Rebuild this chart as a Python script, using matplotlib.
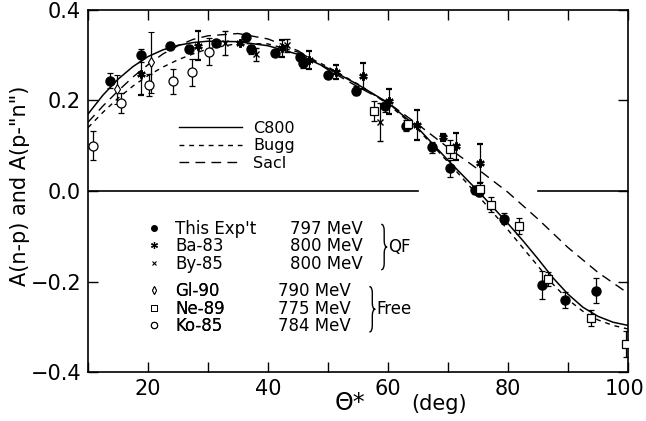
import numpy as np
import matplotlib
matplotlib.use('Agg')
import matplotlib.pyplot as plt
import matplotlib.transforms as mtransforms
from matplotlib.lines import Line2D
from matplotlib.path import Path
from matplotlib.patches import PathPatch
from matplotlib.ticker import MultipleLocator, FixedLocator, FixedFormatter

plt.rcParams['font.family'] = ['DejaVu Sans']

# ---------------- theory curves ----------------
curve_theta = [10, 12.5, 15, 17.5, 20, 22.5, 25, 27.5, 30, 35, 40, 45, 50, 55, 60, 65,
               70, 75, 80, 82.5, 85, 87.5, 90, 92.5, 95, 97.5, 100]
c800 = [0.170, 0.212, 0.247, 0.275, 0.297, 0.312, 0.322, 0.328, 0.331, 0.330, 0.321,
        0.302, 0.271, 0.235, 0.195, 0.139, 0.068, 0.000, -0.072, -0.110, -0.150,
        -0.192, -0.228, -0.257, -0.277, -0.290, -0.297]
bugg = [0.140, 0.174, 0.205, 0.232, 0.255, 0.274, 0.290, 0.303, 0.314, 0.326, 0.325,
        0.307, 0.274, 0.236, 0.192, 0.136, 0.064, -0.010, -0.086, -0.126, -0.166,
        -0.206, -0.240, -0.266, -0.285, -0.297, -0.305]
sacl_theta = [10, 12.5, 15, 17.5, 20, 22.5, 25, 27.5, 30, 35, 40, 45, 50, 55, 60, 65,
              70, 75, 80, 85, 90, 95, 100]
sacl = [0.152, 0.188, 0.221, 0.252, 0.279, 0.303, 0.321, 0.335, 0.343, 0.348, 0.336,
        0.310, 0.268, 0.230, 0.195, 0.147, 0.096, 0.048, -0.003, -0.062, -0.125,
        -0.180, -0.226]
curve_names = ["C800", "Bugg", "Sacl"]

# ---------------- data sets ----------------
# This Exp't (797 MeV)
exp_theta = [13.7, 18.8, 23.7, 26.8, 31.4, 36.3, 37.1, 41.1, 45.3, 45.9, 50.0, 54.7,
             59.5, 63.0, 67.4, 70.4, 74.5, 75.2, 79.3, 85.6, 89.5, 94.6]
exp_val = [0.244, 0.300, 0.321, 0.314, 0.327, 0.340, 0.313, 0.305, 0.297, 0.282, 0.257,
           0.222, 0.188, 0.144, 0.097, 0.050, 0.002, -0.002, -0.061, -0.208, -0.241,
           -0.220]
exp_err = [0.017, 0.014, 0.008, 0.008, 0.006, 0.007, 0.010, 0.007, 0.006, 0.010, 0.007,
           0.010, 0.014, 0.012, 0.012, 0.018, 0.008, 0.008, 0.012, 0.031, 0.017, 0.027]

# Ba-83 (800 MeV)
ba_theta = [18.9, 28.4, 35.3, 42.3, 46.9, 51.4, 55.8, 60.1, 64.8, 69.1, 71.3, 75.4]
ba_val = [0.258, 0.321, 0.326, 0.315, 0.290, 0.263, 0.254, 0.198, 0.146, 0.119, 0.099,
          0.061]
ba_err = [0.046, 0.032, 0.003, 0.019, 0.020, 0.016, 0.028, 0.027, 0.033, 0.008, 0.030,
          0.043]

# By-85 (800 MeV)
by_theta = [32.8, 38.0, 43.1, 58.6]
by_val = [0.327, 0.302, 0.322, 0.153]
by_err = [0.027, 0.014, 0.015, 0.042]

# Gl-90 (790 MeV)
gl_theta = [14.9, 20.5]
gl_val = [0.225, 0.284]
gl_err = [0.032, 0.067]

# Ne-89 (775 MeV)
ne_theta = [57.7, 63.4, 70.4, 75.3, 77.1, 81.8, 86.6, 93.9, 99.7]
ne_val = [0.176, 0.148, 0.093, 0.004, -0.030, -0.077, -0.195, -0.280, -0.338]
ne_err = [0.022, 0.010, 0.020, 0.016, 0.016, 0.017, 0.015, 0.018, 0.028]

# Ko-85 (784 MeV)
ko_theta = [10.9, 15.5, 20.2, 24.1, 27.3, 30.2]
ko_val = [0.100, 0.194, 0.234, 0.242, 0.262, 0.308]
ko_err = [0.032, 0.022, 0.025, 0.028, 0.029, 0.030]

qf_names = ["This Exp't", "Ba-83", "By-85"]
qf_energies = ["797 MeV", "800 MeV", "800 MeV"]
free_names = ["Gl-90", "Ne-89", "Ko-85"]
free_energies = ["790 MeV", "775 MeV", "784 MeV"]

xticks = [20, 40, 60, 80, 100]
xtick_labels = ["20", "40", "60", "80", "100"]
yticks = [-0.4, -0.2, 0.0, 0.2, 0.4]
ytick_labels = ["\u22120.4", "\u22120.2", "0.0", "0.2", "0.4"]

# ---------------- figure ----------------
fig = plt.figure(figsize=(6.46, 4.21), dpi=100)
ax = fig.add_axes([88 / 646, 1 - 372 / 421, 540 / 646, 362 / 421])
ax.set_xlim(10, 100)
ax.set_ylim(-0.4, 0.4)

# zero line (with gap as in original)
ax.axhline(0, xmin=0.0, xmax=0.611, color='k', lw=1.2, zorder=1)
ax.axhline(0, xmin=0.833, xmax=1.0, color='k', lw=1.2, zorder=1)

# curves
ax.plot(curve_theta, c800, color='k', lw=1.1, ls='-', zorder=2)
ax.plot(curve_theta, bugg, color='k', lw=1.0, dashes=(3.5, 3.5), zorder=2)
ax.plot(sacl_theta, sacl, color='k', lw=1.0, dashes=(7, 4.5), zorder=2)

eb = dict(ecolor='k', elinewidth=0.9, capsize=2.5, capthick=0.9, ls='none', zorder=3)
ax.errorbar(exp_theta, exp_val, yerr=exp_err, marker='o', ms=6.5, mfc='k', mec='k', **eb)
ax.errorbar(ba_theta, ba_val, yerr=ba_err, marker=(6, 2, 0), ms=6, mec='k', mew=1.6, **eb)
ax.errorbar(by_theta, by_val, yerr=by_err, marker='x', ms=5, mec='k', mew=1.0, **eb)
ax.errorbar(gl_theta, gl_val, yerr=gl_err, marker='d', ms=5, mfc='white', mec='k', mew=0.8, **eb)
ax.errorbar(ne_theta, ne_val, yerr=ne_err, marker='s', ms=5.5, mfc='white', mec='k', mew=0.9, **eb)
ax.errorbar(ko_theta, ko_val, yerr=ko_err, marker='o', ms=6.5, mfc='white', mec='k', mew=0.9, **eb)

# ticks
ax.xaxis.set_major_locator(FixedLocator(xticks))
ax.xaxis.set_major_formatter(FixedFormatter(xtick_labels))
ax.xaxis.set_minor_locator(MultipleLocator(10))
ax.yaxis.set_major_locator(FixedLocator(yticks))
ax.yaxis.set_major_formatter(FixedFormatter(ytick_labels))
ax.tick_params(which='both', direction='in', top=True, right=True, length=7, width=1.0)
ax.tick_params(axis='both', which='major', labelsize=15, pad=5)
for s in ax.spines.values():
    s.set_linewidth(1.2)

# axis labels
fig.text(20 / 646, 1 - 186 / 421, 'A(n-p) and A(p-"n")', rotation=90, fontsize=15,
         ha='center', va='center')
fig.text(335 / 646, 1 - 403 / 421, '\u0398*', fontsize=17, ha='left', va='center')
fig.text(411 / 646, 1 - 404 / 421, '(deg)', fontsize=15, ha='left', va='center')

# curve legend
leg1 = ax.legend(handles=[Line2D([], [], color='k', lw=1.0, ls='-'),
                          Line2D([], [], color='k', lw=1.0, dashes=(3.5, 3.5)),
                          Line2D([], [], color='k', lw=1.0, dashes=(7, 4.5))],
                 labels=curve_names, loc='upper left', bbox_to_anchor=(0.168, 0.694),
                 frameon=False, fontsize=11.5, handlelength=3.95, handletextpad=0.7,
                 labelspacing=0.15, borderpad=0, borderaxespad=0)
ax.add_artist(leg1)

key_qf = [Line2D([], [], ls='none', marker='o', ms=4.0, mfc='k', mec='k'),
          Line2D([], [], ls='none', marker=(6, 2, 0), ms=5, mec='k', mew=0.9),
          Line2D([], [], ls='none', marker='x', ms=3.5, mec='k', mew=0.8)]
key_free = [Line2D([], [], ls='none', marker='d', ms=4, mfc='white', mec='k', mew=0.7),
            Line2D([], [], ls='none', marker='s', ms=4, mfc='white', mec='k', mew=0.7),
            Line2D([], [], ls='none', marker='o', ms=4.5, mfc='white', mec='k', mew=0.8)]
legkw = dict(loc='upper left', frameon=False, fontsize=12, handlelength=1.0,
             handletextpad=0.8, labelspacing=-0.04, borderpad=0, borderaxespad=0)
leg2 = ax.legend(handles=key_qf, labels=qf_names, bbox_to_anchor=(0.106, 0.420), **legkw)
ax.add_artist(leg2)
leg3 = ax.legend(handles=key_free, labels=free_names, bbox_to_anchor=(0.106, 0.248), **legkw)
ax.add_artist(leg3)

fig.canvas.draw()
inv = ax.transAxes.inverted()

# nudge the last x tick label ("100") so it stays inside the canvas
last_tick = ax.xaxis.get_major_ticks()[-1]
last_tick.label1.set_transform(last_tick.label1.get_transform() +
                               mtransforms.ScaledTranslation(-3 / 100, 0, fig.dpi_scale_trans))


def brace(x, y0, y1, w, d):
    ym = 0.5 * (y0 + y1)
    verts = [(x, y1), (x + w / 2, y1), (x + w / 2, y1 - d),
             (x + w / 2, ym + d),
             (x + w / 2, ym), (x + w, ym),
             (x + w / 2, ym), (x + w / 2, ym - d),
             (x + w / 2, y0 + d),
             (x + w / 2, y0), (x, y0)]
    codes = [Path.MOVETO, Path.CURVE3, Path.CURVE3, Path.LINETO,
             Path.CURVE3, Path.CURVE3, Path.CURVE3, Path.CURVE3,
             Path.LINETO, Path.CURVE3, Path.CURVE3]
    ax.add_patch(PathPatch(Path(verts, codes), transform=ax.transAxes, fill=False,
                           lw=1.0, edgecolor='k', clip_on=False))


def group(leg, energies, ex, bx, label, lx):
    tops, bots = [], []
    for t, e in zip(leg.get_texts(), energies):
        bb = t.get_window_extent()
        (_, yb), = inv.transform([(bb.x0, bb.y0)])
        (_, yt), = inv.transform([(bb.x1, bb.y1)])
        ax.text(ex, yb, e, transform=ax.transAxes, fontsize=12, ha='left', va='bottom')
        tops.append(yt)
        bots.append(yb)
    y1 = max(tops) - 0.012
    y0 = min(bots) + 0.008
    brace(bx, y0, y1, 0.011, 0.018)
    ax.text(lx, 0.5 * (y0 + y1), label, transform=ax.transAxes, fontsize=12,
            ha='left', va='center')


group(leg2, qf_energies, 0.374, 0.543, 'QF', 0.556)
group(leg3, free_energies, 0.351, 0.521, 'Free', 0.534)

fig.savefig('out.png', dpi=100)
